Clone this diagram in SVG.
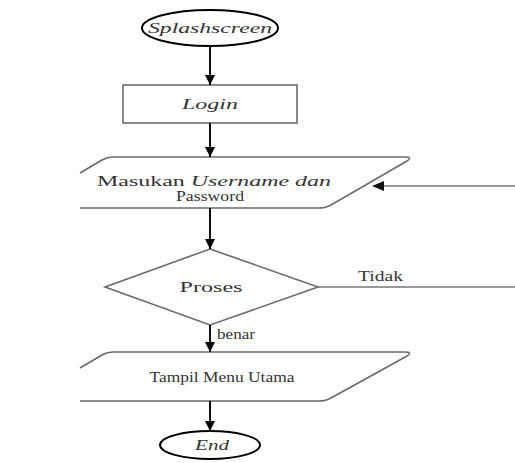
<svg xmlns="http://www.w3.org/2000/svg" width="515" height="463" viewBox="0 0 515 463">
<style>
.term{fill:#fff;stroke:#000;stroke-width:2}
.box{fill:#fff;stroke:#6a6a6a;stroke-width:1.6}
.flow{fill:none;stroke:#111;stroke-width:2}
.gline{fill:none;stroke:#777;stroke-width:1.6}
.t{font-family:"Liberation Serif","Times New Roman",serif;font-size:14px;fill:#333}
.i{font-style:italic}
</style>
<defs>
<marker id="ah" viewBox="0 0 10 10" refX="10" refY="5" markerWidth="5" markerHeight="5" orient="auto" markerUnits="strokeWidth">
<path d="M0,0 L10,5 L0,10 Z" fill="#000"/>
</marker>
</defs>
<rect width="515" height="463" fill="#fff"/>
<g id="splash">
<ellipse class="term" cx="210" cy="28" rx="68" ry="18"/>
<text class="t i" x="210" y="33" text-anchor="middle" textLength="124" lengthAdjust="spacingAndGlyphs">Splashscreen</text>
</g>
<g id="login">
<rect class="box" x="123" y="85" width="174" height="38"/>
<text class="t i" x="210" y="109" text-anchor="middle" textLength="56" lengthAdjust="spacingAndGlyphs">Login</text>
</g>
<g id="input">
<path class="box" d="M80,173 L102,160 Q107,157 113,157 L405,157 Q413,157 407,161 L331,205 Q326,208 319,208 L80,208"/>
<text class="t" x="97" y="186" textLength="234" lengthAdjust="spacingAndGlyphs">Masukan <tspan class="i">Username dan</tspan></text>
<text class="t" x="210" y="201" text-anchor="middle" textLength="68" lengthAdjust="spacingAndGlyphs">Password</text>
</g>
<g id="proses">
<path class="box" d="M210,249 L318,287 L210,325 L105,287 Z"/>
<text class="t" x="211" y="292" text-anchor="middle" textLength="63" lengthAdjust="spacingAndGlyphs">Proses</text>
</g>
<g id="menu">
<path class="box" d="M80,368 L102,355 Q107,352 113,352 L405,352 Q413,352 407,356 L331,398 Q326,401 319,401 L80,401"/>
<text class="t" x="222" y="382" text-anchor="middle" textLength="145" lengthAdjust="spacingAndGlyphs">Tampil Menu Utama</text>
</g>
<g id="end">
<ellipse class="term" cx="210" cy="445" rx="50" ry="14"/>
<text class="t i" x="212" y="450" text-anchor="middle" textLength="34" lengthAdjust="spacingAndGlyphs">End</text>
</g>
<g id="connectors">
<line class="flow" x1="210" y1="47" x2="210" y2="85" marker-end="url(#ah)"/>
<line class="flow" x1="210" y1="123" x2="210" y2="157" marker-end="url(#ah)"/>
<line class="flow" x1="210" y1="208" x2="210" y2="249" marker-end="url(#ah)"/>
<line class="flow" x1="210" y1="325" x2="210" y2="352" marker-end="url(#ah)"/>
<line class="flow" x1="210" y1="401" x2="210" y2="431" marker-end="url(#ah)"/>
<line class="gline" x1="318" y1="287" x2="515" y2="287"/>
<line class="gline" x1="515" y1="186" x2="382" y2="186"/>
<path d="M372,186 L384,181 L384,191 Z" fill="#111"/>
<text class="t" x="358" y="281" textLength="45" lengthAdjust="spacingAndGlyphs">Tidak</text>
<text class="t" x="217" y="339" textLength="38" lengthAdjust="spacingAndGlyphs">benar</text>
</g>
</svg>
